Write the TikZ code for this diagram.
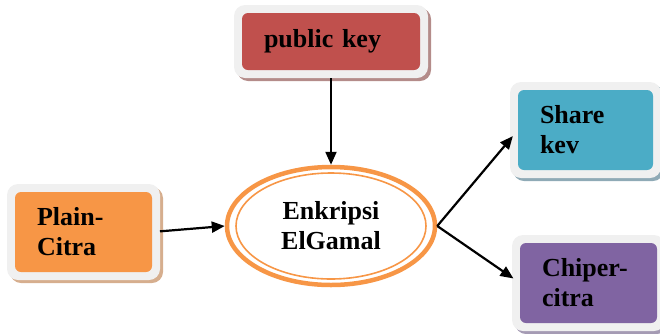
\documentclass[tikz,border=0pt]{standalone}
\usepackage{fontspec}
\setmainfont{Liberation Serif}
\usetikzlibrary{arrows.meta,backgrounds,shapes.geometric}
\definecolor{cred}{HTML}{C0504D}
\definecolor{corange}{HTML}{F79646}
\definecolor{cteal}{HTML}{4BACC6}
\definecolor{cpurple}{HTML}{8064A2}
\definecolor{framec}{HTML}{F0F0F0}
\definecolor{shred}{HTML}{B48C8A}
\definecolor{shorange}{HTML}{D6AE8E}
\definecolor{shteal}{HTML}{8FAAB6}
\definecolor{shpurple}{HTML}{A59BB4}
\tikzset{
  txt/.style={font=\bfseries\fontsize{26}{30}\selectfont},
  cbox/.style={txt, rounded corners=6pt, inner xsep=22pt, inner ysep=0pt, align=left, outer sep=0pt},
  arr/.style={line width=2.2pt, -{Triangle[length=13pt,width=11pt]}},
}
\newcommand{\framed}[2]{%
  \fill[#2, rounded corners=11pt] ([shift={(-5,11)}]#1.south west) rectangle ([shift={(11,-5)}]#1.north east);
  \fill[framec, rounded corners=11pt] ([shift={(-8,8)}]#1.south west) rectangle ([shift={(8,-8)}]#1.north east);
}
\begin{document}
\begin{tikzpicture}[x=1pt,y=-1pt]
\useasboundingbox (0,0) rectangle (660,333);
\node[cbox, fill=cred, text width=134pt, minimum height=57pt] (pk) at (331,41.5) {public key};
\node[cbox, fill=corange, text width=93pt, minimum height=80pt] (pc) at (83.5,232) {Plain-\\Citra};
\node[cbox, fill=cteal, text width=91pt, minimum height=80pt] (sk) at (585.5,130) {Share\\kev};
\node[cbox, fill=cpurple, text width=93pt, minimum height=80pt] (cc) at (588.5,283) {Chiper-\\citra};
\node[txt, ellipse, draw=corange, line width=4.5pt, minimum width=208pt, minimum height=118pt, align=center, inner sep=0pt] (el) at (331,226) {Enkripsi\\ElGamal};
\draw[corange, line width=1.6pt] (el.center) ellipse [x radius=95, y radius=53];
\begin{scope}[on background layer]
\framed{pk}{shred}
\framed{pc}{shorange}
\framed{sk}{shteal}
\framed{cc}{shpurple}
\end{scope}
\draw[arr, shorten <=8pt] (pk.south) -- (el.north);
\draw[arr, shorten <=8pt] (pc.east) -- (el.west);
\draw[arr, shorten >=8pt] (el.east) -- (sk.west);
\draw[arr, shorten >=8pt] (el.east) -- (cc.west);
\end{tikzpicture}
\end{document}
